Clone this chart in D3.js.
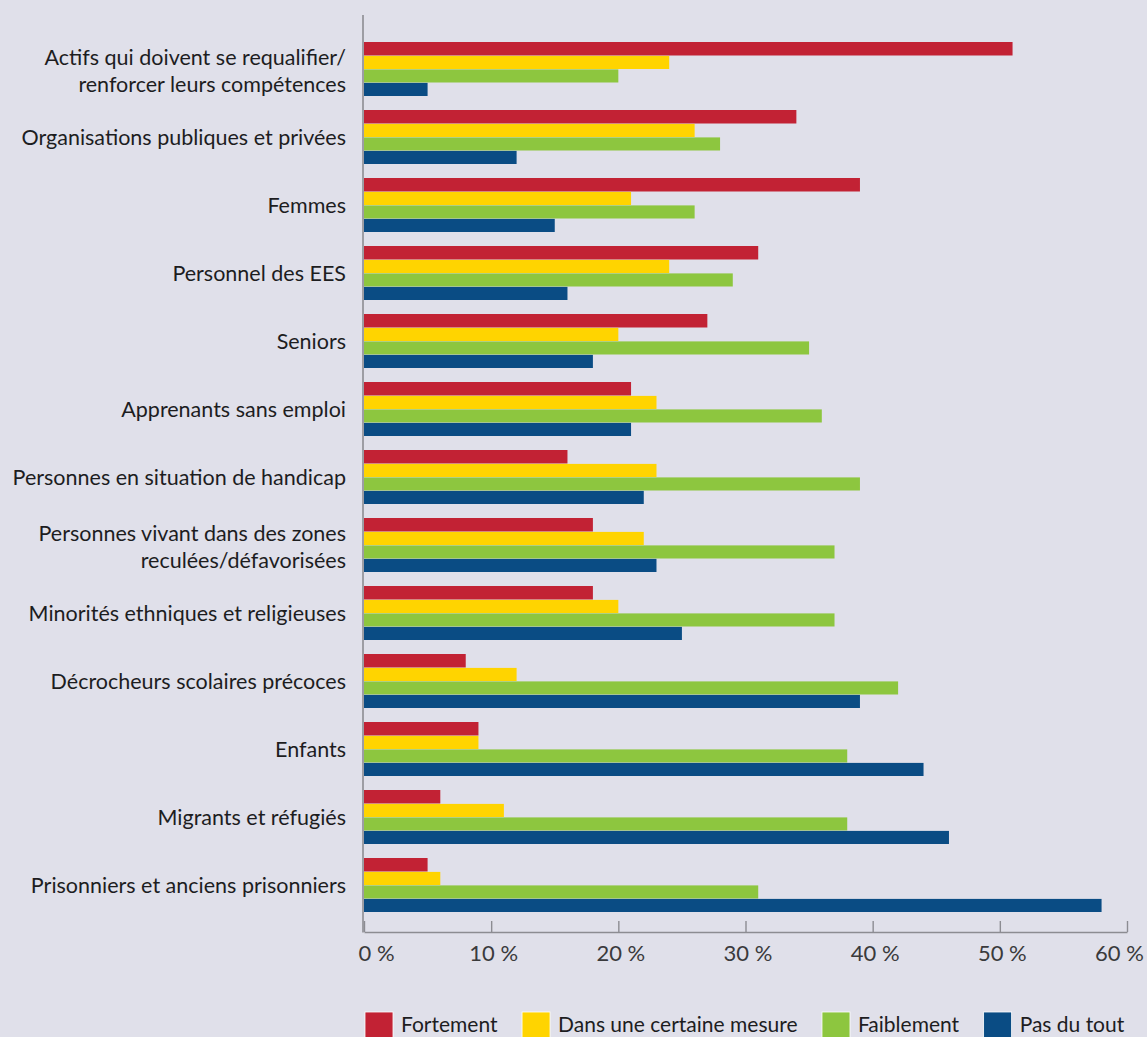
<!DOCTYPE html>
<html lang="fr">
<head>
<meta charset="utf-8">
<script src="https://cdn.jsdelivr.net/npm/d3@7"></script>
<style>
  html, body { margin: 0; padding: 0; background: #e0e0ea; }
  svg { display: block; font-family: Lato, "Open Sans", sans-serif; }
</style>
</head>
<body>
<svg id="chart" width="1147" height="1037"></svg>
<script>
// Target groups (a line break splits long labels over two lines)
const categories = [
  "Actifs qui doivent se requalifier/\nrenforcer leurs compétences",
  "Organisations publiques et privées",
  "Femmes",
  "Personnel des EES",
  "Seniors",
  "Apprenants sans emploi",
  "Personnes en situation de handicap",
  "Personnes vivant dans des zones\nreculées/défavorisées",
  "Minorités ethniques et religieuses",
  "Décrocheurs scolaires précoces",
  "Enfants",
  "Migrants et réfugiés",
  "Prisonniers et anciens prisonniers"
];

const seriesNames = ["Fortement", "Dans une certaine mesure", "Faiblement", "Pas du tout"];
const seriesColors = ["#c22234", "#ffd400", "#8dc63f", "#0a4c84"];

// Share of respondents (%) per answer
const fortement      = [51, 34, 39, 31, 27, 21, 16, 18, 18,  8,  9,  6,  5];
const certaineMesure = [24, 26, 21, 24, 20, 23, 23, 22, 20, 12,  9, 11,  6];
const faiblement     = [20, 28, 26, 29, 35, 36, 39, 37, 37, 42, 38, 38, 31];
const pasDuTout      = [ 5, 12, 15, 16, 18, 21, 22, 23, 25, 39, 44, 46, 58];

const tickValues = [0, 10, 20, 30, 40, 50, 60];

const seriesValues = [fortement, certaineMesure, faiblement, pasDuTout];

const svg = d3.select("#chart");

const x = d3.scaleLinear().domain([0, 60]).range([364, 1127]);

const y = d3.scaleBand()
  .domain(categories)
  .range([42, 912])
  .paddingInner(14 / 68)
  .paddingOuter(0);

const inner = d3.scaleBand()
  .domain(seriesNames)
  .range([0, y.bandwidth()]);

// Bars
const groups = svg.append("g").selectAll("g")
  .data(categories)
  .join("g")
  .attr("transform", d => `translate(0,${y(d)})`);

groups.selectAll("rect")
  .data((c, i) => seriesNames.map((s, k) => ({ s, k, v: seriesValues[k][i] })))
  .join("rect")
  .attr("x", x(0))
  .attr("y", d => inner(d.s) + (d.k > 0 ? 0.4 : 0))
  .attr("height", d => inner.bandwidth() - (d.k > 0 ? 0.4 : 0))
  .attr("width", d => x(d.v) - x(0))
  .attr("fill", d => seriesColors[d.k]);

// Category labels
const labels = svg.append("g")
  .attr("font-size", 21.5)
  .attr("fill", "#1d1d1f")
  .attr("text-anchor", "end");

categories.forEach(c => {
  const lines = c.split("\n");
  const cy = y(c) + y.bandwidth() / 2;
  const t = labels.append("text").attr("x", 346);
  if (lines.length === 1) {
    t.append("tspan").attr("x", 346).attr("y", cy + 8).text(lines[0]);
  } else {
    t.append("tspan").attr("x", 346).attr("y", cy - 4).text(lines[0]);
    t.append("tspan").attr("x", 346).attr("y", cy + 23).text(lines[1]);
  }
});

// Axes
const axisColor = "#8c8c92";
svg.append("line")
  .attr("x1", 363).attr("x2", 363)
  .attr("y1", 15).attr("y2", 932.5)
  .attr("stroke", axisColor).attr("stroke-width", 1.6);

const xAxis = svg.append("g")
  .attr("transform", "translate(0,932)")
  .call(d3.axisBottom(x)
    .tickValues(tickValues)
    .tickSizeInner(-11)
    .tickSizeOuter(0)
    .tickPadding(18)
    .tickFormat(d => d + " %"));

xAxis.select(".domain").attr("stroke", axisColor).attr("stroke-width", 1.6);
xAxis.selectAll(".tick line").attr("stroke", axisColor).attr("stroke-width", 1.4);
xAxis.selectAll(".tick text")
  .attr("font-size", 22)
  .attr("font-family", "Lato, 'Open Sans', sans-serif")
  .attr("fill", "#3a3a3c")
  .attr("y", 29)
  .attr("dy", 0)
  .attr("dx", d => d === 0 ? 12 : (d === 60 ? -8 : 2));

// Legend
const legend = svg.append("g").attr("font-size", 21).attr("fill", "#1d1d1f");
let lx = 365;
seriesNames.forEach((s, k) => {
  legend.append("rect")
    .attr("x", lx).attr("y", 1012)
    .attr("width", 28).attr("height", 28)
    .attr("fill", seriesColors[k])
    .attr("stroke", "#ffffff").attr("stroke-width", 0.8);
  const t = legend.append("text")
    .attr("x", lx + 36).attr("y", 1032)
    .text(s);
  lx = lx + 36 + t.node().getComputedTextLength() + 24.5;
});
</script>
</body>
</html>
